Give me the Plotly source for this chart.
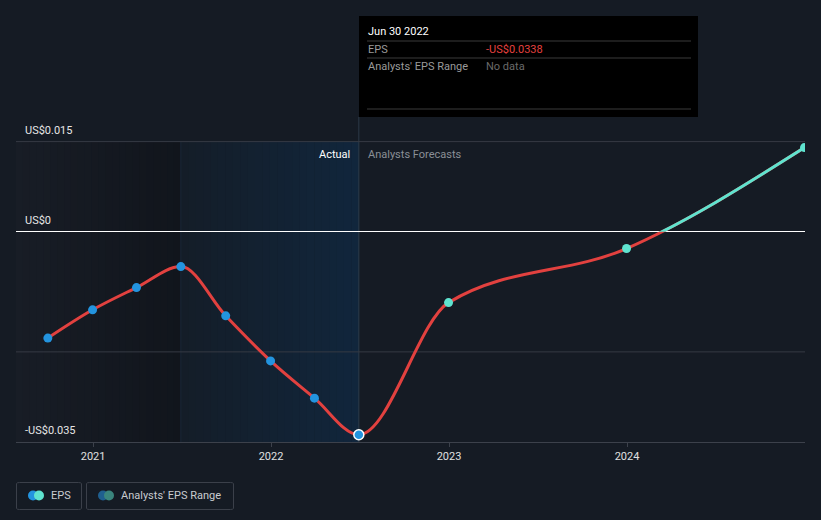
import datetime as dt
import plotly.graph_objects as go

# ---------------- data ----------------
actual_dates = ["2020-09-30", "2020-12-31", "2021-03-31", "2021-06-30",
                "2021-09-30", "2021-12-31", "2022-03-31", "2022-06-30"]
actual_eps = [-0.0177, -0.0130, -0.0093, -0.0058, -0.0140, -0.0215, -0.0277, -0.0338]

forecast_dates = ["2022-12-31", "2023-12-31", "2024-12-31"]
forecast_eps = [-0.0118, -0.0028, 0.0140]

x_tick_vals = [2021, 2022, 2023, 2024]
x_tick_text = ["2021", "2022", "2023", "2024"]
y_label_vals = [0.015, 0.0, -0.035]
y_label_text = ["US$0.015", "US$0", "-US$0.035"]
y_grid_vals = [-0.02, 0.015]

x_range = [2020.567, 2025.0]
y_range = [-0.035, 0.0151]
region_dark_end = "2021-06-30"
region_actual_end = "2022-06-30"

# ---------------- style ----------------
BG = "#151b24"
RED = "#e2413f"
BLUE = "#2394df"
CYAN = "#5fe3cf"
FONT = "Roboto"

W, H = 821, 520
L, R, T, B = 16, 16, 141, 78
PW, PH = W - L - R, H - T - B


def year_frac(s):
    d = dt.date.fromisoformat(s)
    start = dt.date(d.year, 1, 1)
    end = dt.date(d.year + 1, 1, 1)
    return d.year + (d - start).days / (end - start).days


def px(xp):
    return (xp - L) / PW


def py(yp):
    return (H - B - yp) / PH


ax = [year_frac(d) for d in actual_dates]
fx = [year_frac(d) for d in forecast_dates]
all_x = ax + fx
all_y = actual_eps + forecast_eps


def sign(v):
    return -1 if v < 0 else 1


def monotone_path(xs, ys):
    """Cubic Bezier path following d3.curveMonotoneX through the data points."""
    n = len(xs)
    h = [xs[i + 1] - xs[i] for i in range(n - 1)]
    s = [(ys[i + 1] - ys[i]) / h[i] for i in range(n - 1)]
    t = [0.0] * n
    for i in range(1, n - 1):
        h0, h1, s0, s1 = h[i - 1], h[i], s[i - 1], s[i]
        p = (s0 * h1 + s1 * h0) / (h0 + h1)
        t[i] = (sign(s0) + sign(s1)) * min(abs(s0), abs(s1), 0.5 * abs(p))
    t[0] = (3 * s[0] - t[1]) / 2
    t[-1] = (3 * s[-1] - t[-2]) / 2
    parts = [f"M{xs[0]},{ys[0]}"]
    for i in range(n - 1):
        d = h[i] / 3
        parts.append(f"C{xs[i] + d},{ys[i] + t[i] * d} {xs[i + 1] - d},{ys[i + 1] - t[i + 1] * d} "
                     f"{xs[i + 1]},{ys[i + 1]}")
    return " ".join(parts)


def hex_to_rgb(c):
    c = c.lstrip("#")
    return tuple(int(c[i:i + 2], 16) for i in (0, 2, 4))


def mix(c1, c2, f):
    a, b = hex_to_rgb(c1), hex_to_rgb(c2)
    return "rgb(%d,%d,%d)" % tuple(round(a[i] + (b[i] - a[i]) * f) for i in range(3))


eps_path = monotone_path(all_x, all_y)
TOP = y_grid_vals[-1]

shapes = []

# background regions drawn as horizontal gradient strips (below gridlines)
x0r, x1r, x2r = x_range[0], year_frac(region_dark_end), year_frac(region_actual_end)
N = 24
for (a, b, c1, c2) in ((x0r, x1r, "#181d26", "#11151c"), (x1r, x2r, "#141d28", "#11263c")):
    for k in range(N):
        xa = a + (b - a) * k / N
        xb = a + (b - a) * (k + 1) / N
        shapes.append(dict(type="rect", xref="x", yref="y", x0=xa, x1=xb + (b - a) * 0.002,
                           y0=y_range[0], y1=TOP, fillcolor=mix(c1, c2, (k + 0.5) / N),
                           line=dict(width=0), layer="below"))
shapes.append(dict(type="line", xref="x", yref="y", x0=x1r, x1=x1r, y0=y_range[0], y1=TOP,
                   line=dict(color="#1a2838", width=1), layer="below"))

# hover vertical line (inside plot below markers, and the part above the plot)
shapes.append(dict(type="line", xref="x", yref="y", x0=ax[-1], x1=ax[-1],
                   y0=y_range[0], y1=y_range[1], line=dict(color="#2c3a48", width=1),
                   layer="below"))
shapes.append(dict(type="line", xref="x", yref="paper", x0=ax[-1], x1=ax[-1],
                   y0=1, y1=py(117), line=dict(color="#2c3a48", width=1), layer="above"))

# horizontal gridlines
for gv in y_grid_vals:
    shapes.append(dict(type="line", xref="x", yref="y", x0=x_range[0], x1=x_range[1],
                       y0=gv, y1=gv, line=dict(color="#353a44", width=1), layer="below"))

# EPS line: red below zero, cyan above (clipped by the upper subplot)
shapes.append(dict(type="path", xref="x", yref="y", path=eps_path,
                   line=dict(color=RED, width=3), layer="between"))
shapes.append(dict(type="path", xref="x2", yref="y2", path=eps_path,
                   line=dict(color=CYAN, width=3), layer="between"))

# tooltip box
shapes.append(dict(type="rect", xref="paper", yref="paper", x0=px(359), x1=px(698),
                   y0=py(117), y1=py(16), fillcolor="#000000", line=dict(width=0), layer="above"))
for yy in (41, 58, 109):
    shapes.append(dict(type="line", xref="paper", yref="paper", x0=px(367), x1=px(691),
                       y0=py(yy), y1=py(yy), line=dict(color="#3a3a3a", width=1), layer="above"))


def rrect(x0, y0, x1, y1, r=0.004):
    return (f"M{x0+r},{y0} L{x1-r},{y0} Q{x1},{y0} {x1},{y0+r} L{x1},{y1-r} "
            f"Q{x1},{y1} {x1-r},{y1} L{x0+r},{y1} Q{x0},{y1} {x0},{y1-r} "
            f"L{x0},{y0+r} Q{x0},{y0} {x0+r},{y0} Z")


for (x0, x1) in ((16.5, 81.5), (86.5, 233.5)):
    shapes.append(dict(type="path", xref="paper", yref="paper",
                       path=rrect(px(x0), py(509.5), px(x1), py(482.5)),
                       line=dict(color="#3b404a", width=1), fillcolor="rgba(0,0,0,0)"))


def circle(cx, cy, r, color):
    return dict(type="circle", xref="paper", yref="paper",
                x0=px(cx - r), x1=px(cx + r), y0=py(cy + r), y1=py(cy - r),
                fillcolor=color, line=dict(width=0))


shapes += [circle(33, 495.5, 5, BLUE), circle(39, 495.5, 5, CYAN),
           circle(103, 495.5, 5, "#1f5f8f"), circle(109, 495.5, 5, "#3a857d")]

fig = go.Figure()

# placeholder on second subplot (for clipping the above-zero colour)
fig.add_trace(go.Scatter(x=[None], y=[None], xaxis="x2", yaxis="y2", showlegend=False,
                         hoverinfo="skip"))
# markers
fig.add_trace(go.Scatter(x=ax[:-1], y=actual_eps[:-1], mode="markers",
                         marker=dict(color=BLUE, size=9), hoverinfo="skip", showlegend=False))
fig.add_trace(go.Scatter(x=fx, y=forecast_eps, mode="markers",
                         marker=dict(color=CYAN, size=9), hoverinfo="skip", showlegend=False))
fig.add_trace(go.Scatter(x=[ax[-1]], y=[actual_eps[-1]], mode="markers",
                         marker=dict(color=BLUE, size=10, line=dict(color="white", width=1.5)),
                         hoverinfo="skip", showlegend=False))

annotations = []
for v, t in zip(y_label_vals, y_label_text):
    annotations.append(dict(x=0, xref="paper", y=v, yref="y", text=t, showarrow=False,
                            xanchor="left", yanchor="bottom", xshift=7, yshift=3,
                            font=dict(family=FONT, size=11, color="#e6e6e6")))

annotations += [
    dict(x=px(352), y=py(154), xref="paper", yref="paper", text="Actual", showarrow=False,
         xanchor="right", yanchor="middle", font=dict(family=FONT, size=11, color="#ffffff")),
    dict(x=px(366), y=py(154), xref="paper", yref="paper", text="Analysts Forecasts",
         showarrow=False, xanchor="left", yanchor="middle",
         font=dict(family=FONT, size=11, color="#8a8f96")),
    dict(x=px(366), y=py(31), xref="paper", yref="paper", text="Jun 30 2022", showarrow=False,
         xanchor="left", yanchor="middle", font=dict(family=FONT, size=11, color="#ffffff")),
    dict(x=px(366), y=py(49), xref="paper", yref="paper", text="EPS", showarrow=False,
         xanchor="left", yanchor="middle", font=dict(family=FONT, size=11, color="#9a9a9a")),
    dict(x=px(484), y=py(49), xref="paper", yref="paper", text="-US$0.0338", showarrow=False,
         xanchor="left", yanchor="middle", font=dict(family=FONT, size=11, color="#e5403f")),
    dict(x=px(366), y=py(66), xref="paper", yref="paper", text="Analysts' EPS Range",
         showarrow=False, xanchor="left", yanchor="middle",
         font=dict(family=FONT, size=11, color="#9a9a9a")),
    dict(x=px(484), y=py(66), xref="paper", yref="paper", text="No data", showarrow=False,
         xanchor="left", yanchor="middle", font=dict(family=FONT, size=11, color="#6a6a6a")),
    dict(x=px(49), y=py(495.5), xref="paper", yref="paper", text="EPS", showarrow=False,
         xanchor="left", yanchor="middle", font=dict(family=FONT, size=11, color="#c8cbd0")),
    dict(x=px(119), y=py(495.5), xref="paper", yref="paper", text="Analysts' EPS Range",
         showarrow=False, xanchor="left", yanchor="middle",
         font=dict(family=FONT, size=11, color="#c8cbd0")),
]

zero_frac = (0 - y_range[0]) / (y_range[1] - y_range[0])

fig.update_layout(
    width=W, height=H,
    margin=dict(l=L, r=R, t=T, b=B, pad=0),
    paper_bgcolor=BG, plot_bgcolor="rgba(0,0,0,0)",
    showlegend=False,
    shapes=shapes, annotations=annotations,
    xaxis=dict(range=x_range, tickvals=x_tick_vals, ticktext=x_tick_text,
               showgrid=False, zeroline=False, showline=True, linecolor="#3c414b", linewidth=1,
               ticks="outside", ticklen=4, tickcolor="#3c414b",
               tickfont=dict(family=FONT, size=11, color="#e0e0e0"), fixedrange=True),
    yaxis=dict(range=y_range, tickvals=y_grid_vals, showticklabels=False, showgrid=False,
               zeroline=True, zerolinecolor="#ffffff",
               zerolinewidth=1, showline=False, fixedrange=True),
    xaxis2=dict(range=x_range, overlaying="x", anchor="y2", visible=False),
    yaxis2=dict(range=[0, y_range[1]], domain=[zero_frac, 1], anchor="x2", visible=False),
)

fig.write_html("out.html")
